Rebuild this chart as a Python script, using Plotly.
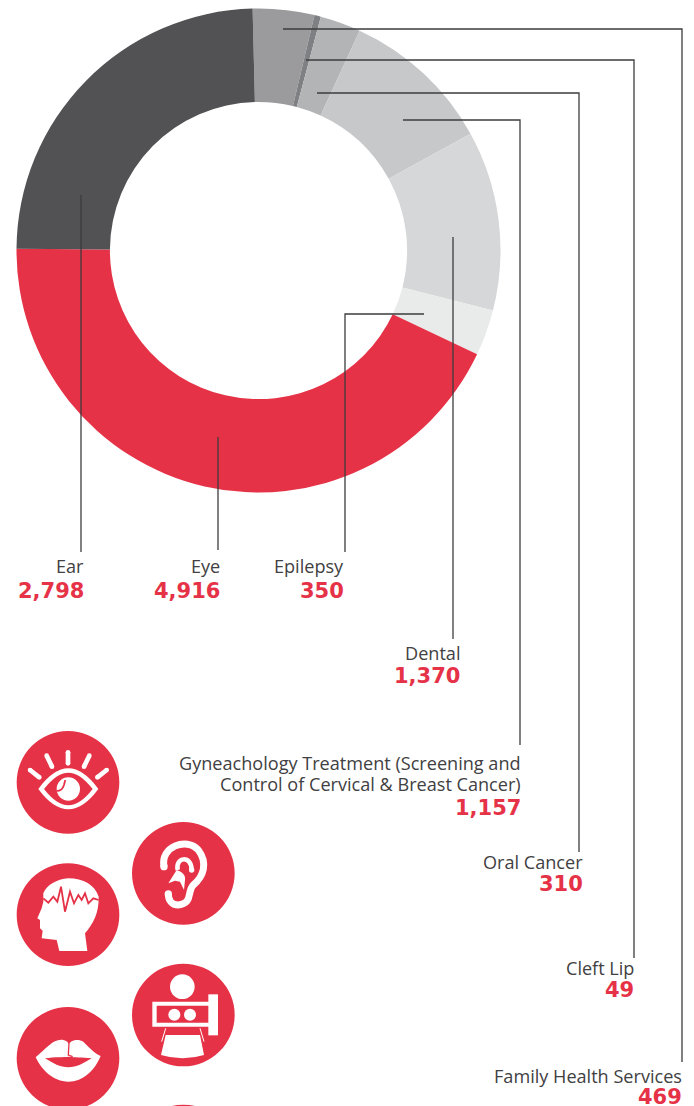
import re
import plotly.graph_objects as go

W, H = 694, 1106
RED = "#E63247"
LINE = "#3D3C3E"
TEXT = "#414042"

categories = ["Family Health Services", "Cleft Lip", "Oral Cancer", "Gyneachology", "Dental", "Epilepsy", "Eye", "Ear"]
values = [469, 49, 310, 1157, 1370, 350, 4916, 2798]
colors = ["#9B9B9E", "#7F8083", "#B3B4B6", "#C7C8CA", "#D6D7D9", "#E8EBE9", RED, "#525153"]

cx, cy, R = 258.5, 250.5, 242.0

fig = go.Figure()
fig.add_trace(go.Pie(
    labels=categories, values=values, sort=False, direction="clockwise", rotation=-1.4,
    hole=0.614, textinfo="none", hoverinfo="label+value",
    marker=dict(colors=colors, line=dict(width=0)), showlegend=False,
    domain=dict(x=[(cx - R) / W, (cx + R) / W], y=[1 - (cy + R) / H, 1 - (cy - R) / H]),
))
fig.add_trace(go.Scatter(x=[], y=[], showlegend=False))

shapes = []

# leader lines, as page positions
leaders = [
    [(283, 29), (682, 29), (682, 1062)],
    [(306, 60), (634, 60), (634, 958)],
    [(317, 93), (579, 93), (579, 852)],
    [(403, 120), (520, 120), (520, 745)],
    [(453, 237), (453, 639)],
    [(424, 314), (345, 314), (345, 552)],
    [(218, 437), (218, 550)],
    [(81, 195), (81, 552)],
]
for pts in leaders:
    d = "M" + " L".join(f"{x} {y}" for x, y in pts)
    shapes.append(dict(type="path", path=d, xref="x", yref="y", line=dict(color=LINE, width=1.3)))


def zoom_path(d):
    """Icon outlines are written in a 3x drawing space offset by 720 px vertically."""
    nums = re.findall(r"[A-Za-z]|-?\d+\.?\d*", d)
    out, idx = [], 0
    for t in nums:
        if t.isalpha():
            out.append(t)
        else:
            v = float(t) / 3
            out.append(f"{v + 720 if idx % 2 else v:.2f}")
            idx += 1
    return " ".join(out)


def fill(d, color="white"):
    shapes.append(dict(type="path", path=zoom_path(d), xref="x", yref="y",
                       fillcolor=color, line=dict(width=0)))


def stroke(d, width, color="white"):
    shapes.append(dict(type="path", path=zoom_path(d), xref="x", yref="y",
                       line=dict(color=color, width=width)))


def disc(x, y, r, color="white"):
    shapes.append(dict(type="circle", xref="x", yref="y", fillcolor=color, line=dict(width=0),
                       x0=(x - r) / 3, x1=(x + r) / 3, y0=720 + (y - r) / 3, y1=720 + (y + r) / 3))


def capsule(x0, y0, x1, y1, w):
    stroke(f"M{x0} {y0} L{x1} {y1}", w / 3)
    disc(x0, y0, w / 2)
    disc(x1, y1, w / 2)


# badges
for x, y in [(204, 187), (550, 460), (204, 584), (550, 885), (204, 1015), (550, 1308)]:
    disc(x, y, 154, RED)

# eye
for ray in [(204, 97, 204, 130), (140, 107, 156, 140), (268, 107, 252, 140), (90, 150, 118, 172), (320, 150, 292, 172)]:
    capsule(*ray, 14)
fill("M115 207 Q160 145 205 145 Q250 145 295 207 Q250 268 205 268 Q160 268 115 207 Z")
fill("M132 207 Q170 158 205 158 Q240 158 278 207 Q240 256 205 256 Q170 256 132 207 Z", RED)
disc(205, 207, 35)
stroke("M170 212 Q185 215 192 195 Q194 186 196 180", 1.8, RED)

# ear
stroke("M492 440 C480 380 560 350 595 390 C625 430 610 470 580 495 C560 515 580 550 535 555 C515 555 505 540 505 522", 7)
disc(492, 440, 11)
disc(505, 522, 11)
stroke("M533 450 C525 410 575 405 575 450", 4.5)
disc(575, 450, 8)
fill("M505 490 L530 450 C545 455 558 465 555 480 L552 510 L540 485 L525 482 Z")

# head
fill("M205 475 C170 478 140 495 130 520 L130 545 L125 565 L112 595 L120 600 L120 625 L128 632 L125 655 L170 660 L178 693 L262 693 L255 640 C280 610 297 580 296 530 C285 495 250 475 205 475 Z")
stroke("M130 535 L145 548 L160 530 L172 545 L183 500 L195 575 L210 515 L222 550 L235 525 L245 540 L255 520 L265 550 L280 535 L296 540", 1.8, RED)

# mammography
disc(547, 800, 37)
fill("M625 823 L654 823 L654 946 L625 946 Z")
fill("M457 845 L640 845 L640 920 L457 920 Z")
fill("M470 857 L625 857 L625 908 L470 908 Z", RED)
disc(523, 884, 18)
disc(570, 884, 18)
fill("M497 945 L600 945 L612 1005 Q548 1025 483 1005 Z")
stroke("M497 925 L485 965", 1)
stroke("M600 925 L612 965", 1)

# lips
fill("M107 1012 C140 985 160 955 190 960 C200 962 205 968 207 972 C212 960 235 955 250 965 C270 985 285 1000 302 1008 C285 1050 250 1085 205 1085 C160 1085 125 1050 107 1012 Z")
fill("M135 1015 C165 1010 190 1012 207 1010 C225 1012 245 1012 275 1015 C250 1030 230 1042 205 1042 C180 1042 160 1030 135 1015 Z", RED)
stroke("M207 968 L205 1005 L218 1010", 1.3, RED)

# callouts
callout_names = [["Ear"], ["Eye"], ["Epilepsy"], ["Dental"],
                 ["Gyneachology Treatment (Screening and", "Control of Cervical & Breast Cancer)"],
                 ["Oral Cancer"], ["Cleft Lip"], ["Family Health Services"]]
callout_values = [2798, 4916, 350, 1370, 1157, 310, 49, 469]
callout_right = [84, 220, 344, 460, 521, 583, 634, 682]
callout_name_y = [566, 566, 566, 653, 763, 862, 968, 1076]
callout_value_y = [591, 591, 591, 676, 808, 884, 990, 1097]

ann = []
for names, v, xr, ny, vy in zip(callout_names, callout_values, callout_right, callout_name_y, callout_value_y):
    for i, name in enumerate(names):
        ann.append(dict(x=xr, y=ny + 20.5 * i, text=name, xref="x", yref="y", xanchor="right", yanchor="middle",
                        align="right", showarrow=False, xshift=2,
                        font=dict(family="Open Sans", size=18.1, color=TEXT)))
    ann.append(dict(x=xr, y=vy, text=f"{v:,}", xref="x", yref="y", xanchor="right", yanchor="middle", align="right",
                    showarrow=False, xshift=2, font=dict(family="DejaVu Sans", size=21, color=RED, weight="bold")))

fig.update_layout(
    width=W, height=H, margin=dict(l=0, r=0, t=0, b=0),
    paper_bgcolor="white", plot_bgcolor="rgba(0,0,0,0)",
    xaxis=dict(range=[0, W], visible=False, domain=[0, 1], fixedrange=True),
    yaxis=dict(range=[H, 0], visible=False, domain=[0, 1], fixedrange=True),
    shapes=shapes, annotations=ann,
)
fig.write_html("out.html", config=dict(displayModeBar=False),
               post_script="document.body.style.margin='0';document.documentElement.style.overflow='hidden';")
